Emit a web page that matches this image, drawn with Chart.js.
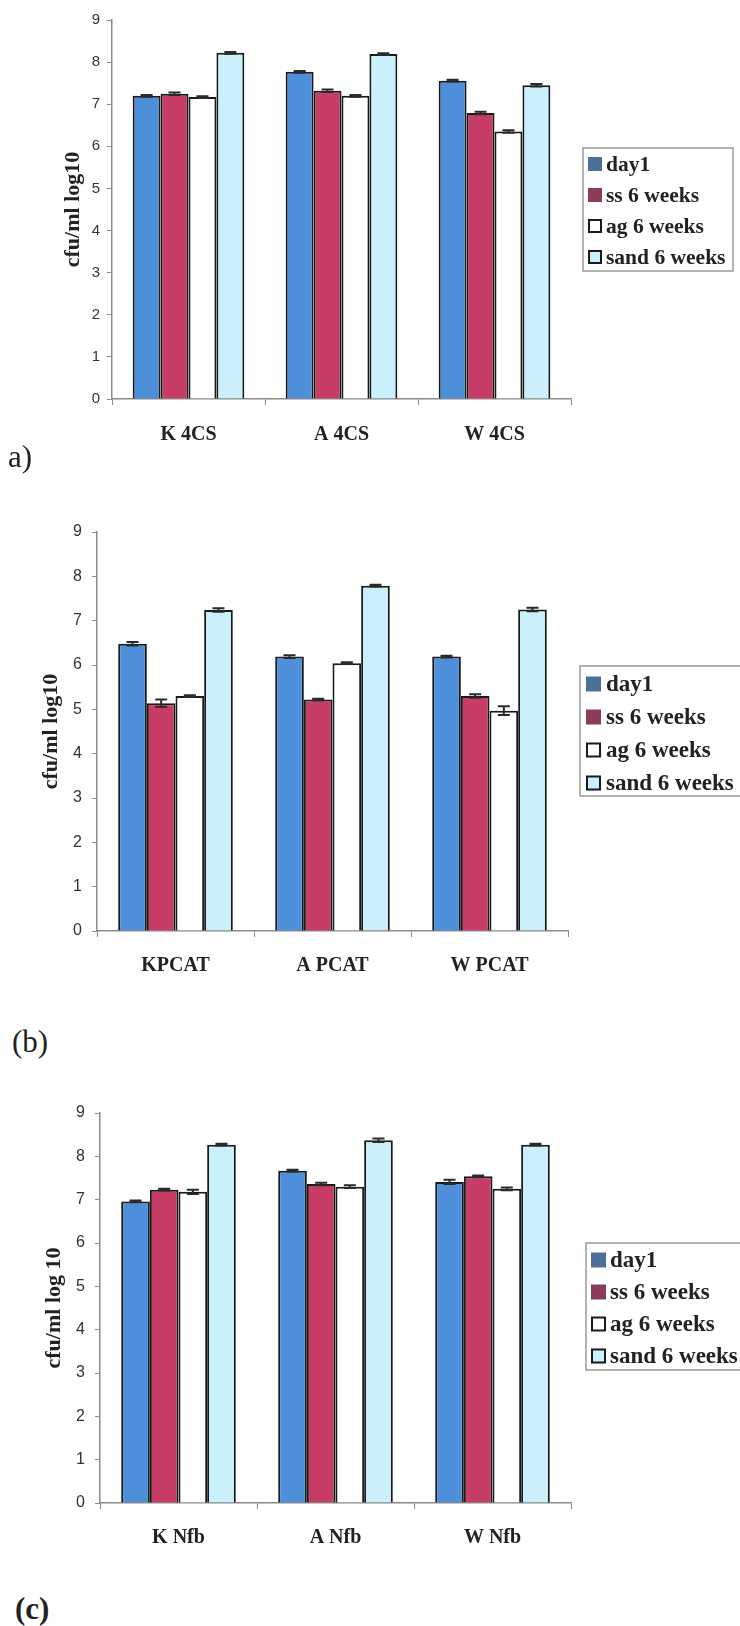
<!DOCTYPE html>
<html><head><meta charset="utf-8">
<script src="https://cdn.jsdelivr.net/npm/chart.js@4.4.0/dist/chart.umd.min.js"></script>
<style>
html,body{margin:0;padding:0;background:#fff;}
#wrap{position:relative;width:740px;height:1626px;overflow:hidden;background:#fff;}
canvas{position:absolute;left:0;}
.pl{position:absolute;font-family:'Liberation Serif',serif;color:#222;font-size:31px;line-height:36px;white-space:nowrap;}
</style></head><body>
<div id="wrap">
<canvas id="ca" width="740" height="470" style="top:0px"></canvas>
<canvas id="cb" width="740" height="480" style="top:510px"></canvas>
<canvas id="cc" width="740" height="470" style="top:1090px"></canvas>
<div class="pl" style="left:8px;top:439px;">a)</div>
<div class="pl" style="left:12px;top:1024px;">(b)</div>
<div class="pl" style="left:15px;top:1591px;font-weight:bold;">(c)</div>
</div>
<script>
// ---- data ----
const seriesLabels = ['day1', 'ss 6 weeks', 'ag 6 weeks', 'sand 6 weeks'];
const yMin = 0, yMax = 9, yStep = 1;

const catsA = ['K 4CS', 'A 4CS', 'W 4CS'];
const aDay1 = [7.20, 7.77, 7.56];
const aSS   = [7.25, 7.32, 6.79];
const aAG   = [7.17, 7.20, 6.35];
const aSand = [8.22, 8.19, 7.45];
const aDay1Err = [0.02, 0.02, 0.02];
const aSSErr   = [0.03, 0.03, 0.03];
const aAGErr   = [0.02, 0.02, 0.03];
const aSandErr = [0.02, 0.02, 0.03];

const catsB = ['KPCAT', 'A PCAT', 'W PCAT'];
const bDay1 = [6.48, 6.19, 6.19];
const bSS   = [5.14, 5.22, 5.30];
const bAG   = [5.30, 6.04, 4.97];
const bSand = [7.24, 7.79, 7.25];
const bDay1Err = [0.04, 0.03, 0.02];
const bSSErr   = [0.08, 0.02, 0.04];
const bAGErr   = [0.02, 0.02, 0.10];
const bSandErr = [0.04, 0.02, 0.04];

const catsC = ['K Nfb', 'A Nfb', 'W Nfb'];
const cDay1 = [6.96, 7.67, 7.41];
const cSS   = [7.23, 7.36, 7.54];
const cAG   = [7.18, 7.30, 7.25];
const cSand = [8.27, 8.37, 8.27];
const cDay1Err = [0.02, 0.02, 0.05];
const cSSErr   = [0.02, 0.03, 0.02];
const cAGErr   = [0.05, 0.03, 0.03];
const cSandErr = [0.02, 0.04, 0.02];

// ---- styles ----
const barColors    = ['#4d8fd9', '#c83d66', '#ffffff', '#c9f0fb'];
const legendColors = ['#4e6f97', '#8c3b5a', '#ffffff', '#c9f0fb'];
const legendBorder = [null, null, '#1a1a1a', '#1a1a1a'];
const axisColor = '#8a8a8a';
const serif = "'Liberation Serif', 'Times New Roman', serif";
const sans = "'Liberation Sans', Arial, sans-serif";

const errorBarPlugin = {
  id: 'errbars',
  afterDatasetsDraw(chart) {
    const ctx = chart.ctx;
    const ys = chart.scales.y;
    ctx.save();
    ctx.strokeStyle = '#2a2a2a';
    ctx.lineWidth = 2;
    chart.data.datasets.forEach((ds, i) => {
      const meta = chart.getDatasetMeta(i);
      meta.data.forEach((bar, j) => {
        const v = ds.data[j], e = ds.errors[j];
        const yt = ys.getPixelForValue(v + e);
        const yb = ys.getPixelForValue(v - e);
        const x = bar.x, cw = 6;
        ctx.beginPath();
        ctx.moveTo(x, yt); ctx.lineTo(x, yb);
        ctx.moveTo(x - cw, yt); ctx.lineTo(x + cw, yt);
        ctx.moveTo(x - cw, yb); ctx.lineTo(x + cw, yb);
        ctx.stroke();
      });
    });
    ctx.restore();
  }
};

const boxLegendPlugin = {
  id: 'boxlegend',
  afterDraw(chart, args, o) {
    const ctx = chart.ctx;
    ctx.save();
    ctx.strokeStyle = '#999';
    ctx.lineWidth = 1.5;
    ctx.fillStyle = '#fff';
    ctx.fillRect(o.x, o.y, o.w, o.h);
    ctx.strokeRect(o.x, o.y, o.w, o.h);
    ctx.font = 'bold ' + o.font + 'px ' + serif;
    ctx.textBaseline = 'middle';
    chart.data.datasets.forEach((ds, i) => {
      const cy = o.row0 + i * o.step;
      const s = o.sw;
      ctx.fillStyle = legendColors[i];
      ctx.fillRect(o.swx, cy - s / 2, s, s);
      if (legendBorder[i]) {
        ctx.strokeStyle = legendBorder[i];
        ctx.lineWidth = 2;
        ctx.strokeRect(o.swx + 1, cy - s / 2 + 1, s - 2, s - 2);
      }
      ctx.fillStyle = '#222';
      ctx.fillText(ds.label, o.tx, cy + 1);
    });
    ctx.restore();
  }
};

function makeChart(id, cats, vals, errs, cfg) {
  const datasets = seriesLabels.map((lab, i) => ({
    label: lab,
    data: vals[i],
    errors: errs[i],
    backgroundColor: barColors[i],
    borderColor: '#1a1a1a',
    borderWidth: 2,
    borderSkipped: 'bottom',
    barPercentage: 1.0,
    categoryPercentage: 0.73
  }));
  return new Chart(document.getElementById(id), {
    type: 'bar',
    data: { labels: cats, datasets },
    plugins: [errorBarPlugin, boxLegendPlugin],
    options: {
      responsive: false,
      animation: false,
      devicePixelRatio: 1,
      layout: { padding: { left: cfg.padL, top: cfg.padT, right: cfg.padR, bottom: cfg.padB } },
      plugins: {
        legend: { display: false },
        tooltip: { enabled: false },
        boxlegend: cfg.legend
      },
      scales: {
        x: {
          offset: true,
          grid: { display: true, drawOnChartArea: false, drawTicks: true, tickLength: 6, color: axisColor, offset: true },
          border: { display: true, color: axisColor, width: 1.5 },
          ticks: { color: '#222', font: { family: serif, weight: 'bold', size: 20 }, padding: cfg.xPad, maxRotation: 0, autoSkip: false },
          afterFit(s) { s.height = cfg.xH; }
        },
        y: {
          min: yMin, max: yMax,
          ticks: { stepSize: yStep, color: '#333', font: { family: sans, size: cfg.yFont }, padding: cfg.yPad },
          grid: { display: true, drawOnChartArea: false, drawTicks: true, tickLength: 5, color: axisColor },
          border: { display: true, color: axisColor, width: 1.5 },
          title: { display: true, text: cfg.yTitle, color: '#222', font: { family: serif, weight: 'bold', size: 22 }, padding: { top: 0, bottom: 0 } },
          afterFit(s) { s.width = cfg.yW; }
        }
      }
    }
  });
}

makeChart('ca', catsA, [aDay1, aSS, aAG, aSand], [aDay1Err, aSSErr, aAGErr, aSandErr], {
  padL: 60, padT: 20, padR: 169, padB: 21, xH: 50, xPad: 18, yW: 52, yFont: 15, yPad: 7,
  yTitle: 'cfu/ml log10',
  legend: { x: 583, y: 148, w: 150, h: 123, row0: 164, step: 31, sw: 14, swx: 588, tx: 606, font: 21.5 }
});
makeChart('cb', catsB, [bDay1, bSS, bAG, bSand], [bDay1Err, bSSErr, bAGErr, bSandErr], {
  padL: 38, padT: 22, padR: 172, padB: 9, xH: 50, xPad: 17, yW: 59, yFont: 16, yPad: 10,
  yTitle: 'cfu/ml log10',
  legend: { x: 580, y: 156, w: 165, h: 130, row0: 174, step: 33, sw: 15, swx: 586, tx: 606, font: 23 }
});
makeChart('cc', catsC, [cDay1, cSS, cAG, cSand], [cDay1Err, cSSErr, cAGErr, cSandErr], {
  padL: 41, padT: 23, padR: 169, padB: 7, xH: 50, xPad: 17, yW: 59, yFont: 16, yPad: 10,
  yTitle: 'cfu/ml log 10',
  legend: { x: 586, y: 153, w: 162, h: 127, row0: 170, step: 32, sw: 15, swx: 591, tx: 610, font: 23 }
});
</script>
</body></html>
